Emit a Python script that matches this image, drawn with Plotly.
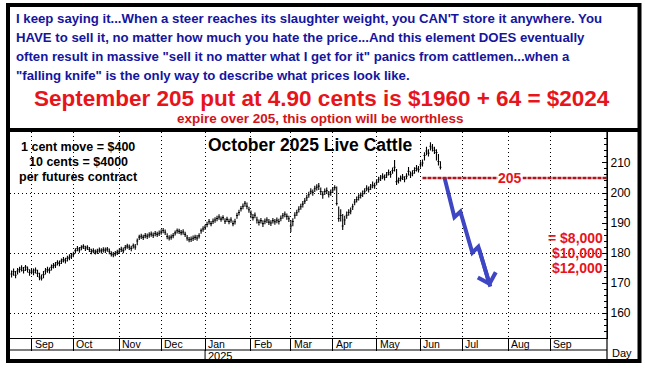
import pandas as pd
import plotly.graph_objects as go

# ---------------- data ----------------
bar_first_day = "2024-08-19"
bar_last_day = "2025-06-16"

hi_aug = [174.2,174.8,174.0,175.0,175.4,175.9,175.3,176.0,175.5,174.6]
lo_aug = [171.8,172.4,171.6,172.8,173.4,173.8,173.2,174.0,173.5,172.4]
cl_aug = [173.0,173.8,172.6,174.0,174.5,175.0,174.2,175.3,174.6,173.5]

hi_sep = [175.0,174.8,175.2,174.4,173.4,172.8,174.0,175.0,175.4,175.2,176.2,176.7,177.0,177.6,177.5,178.2,178.7,178.4,179.1,179.6,180.0]
lo_sep = [172.9,172.6,173.2,172.0,170.9,170.8,171.6,172.8,173.4,173.2,174.2,174.8,175.0,175.8,175.6,176.3,176.8,176.5,177.2,177.6,178.0]
cl_sep = [174.0,173.6,174.3,173.2,172.0,171.6,172.8,174.0,174.5,174.2,175.2,175.8,176.0,176.8,176.5,177.3,177.8,177.4,178.2,178.6,179.0]

hi_oct = [180.4,181.6,182.3,182.0,182.6,182.9,182.4,182.6,182.0,181.4,181.6,181.2,181.4,181.8,181.6,181.9,181.8,182.0,181.5,180.6,180.3,180.7,181.1]
lo_oct = [178.6,179.8,180.6,180.1,180.9,181.3,180.7,181.0,180.3,179.6,179.9,179.5,179.7,180.1,179.8,180.2,180.0,180.4,179.6,178.8,178.6,178.9,179.3]
cl_oct = [179.6,180.8,181.5,181.0,181.8,182.2,181.6,181.9,181.2,180.5,180.8,180.3,180.6,181.0,180.7,181.1,180.9,181.3,180.6,179.7,179.4,179.8,180.2]

hi_nov = [181.5,182.1,181.8,182.7,183.1,182.8,182.4,183.2,183.0,184.8,186.1,186.4,186.1,186.7,186.5,186.9,187.2,186.8,187.3,187.1,187.5]
lo_nov = [179.7,180.3,179.9,180.9,181.4,181.0,180.6,181.5,181.1,182.6,184.3,184.7,184.3,184.9,184.7,185.1,185.4,185.0,185.6,185.3,185.7]
cl_nov = [180.6,181.2,180.8,181.8,182.3,181.9,181.5,182.4,182.0,184.0,185.3,185.6,185.2,185.8,185.6,186.0,186.3,185.9,186.5,186.2,186.6]

hi_dec = [187.9,188.3,187.8,186.6,185.9,186.2,186.7,187.5,188.2,188.1,187.7,187.9,187.1,186.0,185.3,185.5,185.8,186.1,186.0,186.6,188.2,188.9]
lo_dec = [186.1,186.6,186.0,184.6,184.2,184.4,184.9,185.8,186.5,186.3,185.9,186.1,185.3,184.1,183.6,183.7,184.0,184.3,184.1,184.8,186.4,187.1]
cl_dec = [187.0,187.5,186.9,185.5,185.0,185.3,185.8,186.7,187.4,187.2,186.8,187.0,186.2,185.0,184.4,184.6,184.9,185.2,185.0,185.7,187.4,188.0]

hi_jan = [189.4,190.4,191.3,190.7,191.5,191.9,192.4,192.9,192.2,192.6,191.6,192.1,191.4,191.9,190.8,191.4,193.4,194.4,195.7,196.5,197.3,196.8,195.4]
lo_jan = [187.7,188.6,189.5,188.9,189.7,190.1,190.6,191.1,190.4,190.9,189.7,190.3,189.6,190.1,188.9,189.5,191.4,192.5,193.8,194.6,195.4,194.6,193.4]
cl_jan = [188.6,189.5,190.4,189.8,190.6,191.0,191.5,192.0,191.3,191.8,190.6,191.2,190.5,191.0,189.8,190.4,192.5,193.5,194.8,195.6,196.6,195.6,194.4]

hi_feb = [194.2,193.0,193.5,192.1,191.2,191.7,190.9,191.5,191.9,191.3,190.9,191.7,191.3,191.8,191.4,192.5,193.3,193.8,193.2,192.4]
lo_feb = [191.6,190.8,191.6,189.8,189.2,189.8,188.7,189.6,190.0,189.3,189.0,189.8,189.4,189.9,189.5,190.6,191.4,191.9,191.1,190.3]
cl_feb = [193.0,191.8,192.6,191.0,190.2,190.8,189.8,190.6,191.0,190.3,190.0,190.8,190.4,190.9,190.5,191.6,192.4,192.9,192.2,191.4]

hi_mar = [191.0,191.6,193.6,194.4,195.6,196.4,197.3,198.3,199.4,200.4,201.6,201.2,202.4,202.9,203.3,201.8,200.6,201.5,201.8,200.7,201.2]
lo_mar = [187.0,188.9,191.4,192.3,193.5,194.4,195.2,196.3,197.3,198.4,199.6,199.1,200.3,200.8,201.0,199.3,198.1,199.3,199.7,198.5,199.1]
cl_mar = [189.0,190.5,192.6,193.4,194.6,195.4,196.3,197.3,198.4,199.4,200.6,200.2,201.4,201.9,202.3,200.5,199.4,200.5,200.8,199.6,200.2]

hi_apr = [202.0,202.6,202.2,195.5,194.6,193.0,192.4,193.8,194.6,195.2,196.4,198.0,198.8,199.6,200.2,200.8,201.6,202.6,202.2,203.0,203.8,203.4]
lo_apr = [200.0,200.8,195.8,190.4,190.5,187.7,189.3,191.4,192.4,192.9,194.3,195.9,196.8,197.5,198.2,198.7,199.6,200.6,200.2,201.0,201.6,201.4]
cl_apr = [201.0,201.8,196.5,191.5,192.5,189.0,191.0,192.6,193.5,194.0,195.4,197.0,197.8,198.6,199.2,199.8,200.6,201.6,201.2,202.0,202.6,202.4]

hi_may = [204.6,205.4,206.0,206.6,206.2,207.0,207.8,207.3,208.5,211.0,208.0,205.2,205.8,206.3,205.6,206.6,208.7,207.2,207.6,208.6,209.3,209.0]
lo_may = [202.6,203.4,204.0,204.6,204.2,205.0,205.8,205.1,206.4,207.2,202.7,203.2,203.8,204.3,203.6,204.6,205.8,205.0,205.6,206.4,207.2,206.8]
cl_may = [203.6,204.4,205.0,205.6,205.2,206.0,206.8,206.2,207.5,208.6,203.8,204.2,204.8,205.3,204.6,205.6,207.2,206.0,206.6,207.5,208.2,207.8]

hi_jun = [210.6,211.2,213.6,215.4,214.6,216.9,216.3,215.4,214.6,213.0,210.6]
lo_jun = [208.4,208.8,210.8,212.6,212.2,214.2,213.8,213.0,210.8,209.2,207.8]
cl_jun = [209.4,210.0,212.5,214.0,213.3,215.6,215.0,214.2,213.5,210.5,208.6]

# projected "falling knife" path
proj_dates = ["2025-06-18", "2025-06-25", "2025-06-30", "2025-07-08", "2025-07-11", "2025-07-21"]
proj_prices = [205.2, 191.9, 193.8, 180.1, 182.1, 168.8]

strike = 205
strike_line_start = "2025-06-03"
strike_label_date = "2025-08-01"

payoff_levels = [185, 180, 175]
payoff_text = ["= $8,000", "$10,000", "$12,000"]

price_ticks = [160, 170, 180, 190, 200, 210]
month_dates = ["2024-09-02", "2024-10-01", "2024-11-01", "2024-12-02", "2025-01-01", "2025-02-03",
               "2025-03-03", "2025-04-01", "2025-05-01", "2025-06-02", "2025-07-01", "2025-08-01", "2025-09-01"]
month_labels = ["Sep", "Oct", "Nov", "Dec", "Jan", "Feb", "Mar", "Apr", "May", "Jun", "Jul", "Aug", "Sep"]
year_date = "2025-01-01"
year_label = "2025"

top_lines = [
    "I keep saying it...When a steer reaches its slaughter weight, you CAN'T store it anywhere. You",
    "HAVE to sell it, no matter how much you hate the price...And this element DOES eventually",
    "often result in massive \"sell it no matter what I get for it\" panics from cattlemen...when a",
    "\"falling knife\" is the only way to describe what prices look like.",
]
headline = "September 205 put at 4.90 cents is $1960 + 64 = $2024"
subline = "expire over 205, this option will be worthless"
chart_title = "October 2025 Live Cattle"
contract_lines = ["1 cent move = $400", "10 cents = $4000", "per futures contract"]

# ---------------- assemble ----------------
highs = hi_aug + hi_sep + hi_oct + hi_nov + hi_dec + hi_jan + hi_feb + hi_mar + hi_apr + hi_may + hi_jun
lows = lo_aug + lo_sep + lo_oct + lo_nov + lo_dec + lo_jan + lo_feb + lo_mar + lo_apr + lo_may + lo_jun
closes = cl_aug + cl_sep + cl_oct + cl_nov + cl_dec + cl_jan + cl_feb + cl_mar + cl_apr + cl_may + cl_jun
dates = pd.bdate_range(bar_first_day, bar_last_day)
assert len(dates) == len(highs) == len(lows) == len(closes)

W, H = 645, 371
L, R, T, B = 10, 607, 132, 338
x_range = ["2024-08-16 05:00", "2025-10-09 12:00"]
y_range = [151.67, 220.33]


def fx(px):
    return (px - L) / (R - L)


def fy(py):
    return (B - py) / (B - T)


FONT = "Liberation Sans, Arial, sans-serif"
BLUE_TXT = "#15159E"
RED = "#E8141C"
RED_DARK = "#B3141C"
ARROW = "#3E46C4"

fig = go.Figure()

fig.add_trace(go.Ohlc(
    x=dates, open=closes, high=highs, low=lows, close=closes,
    increasing=dict(line=dict(color="black", width=1.1)),
    decreasing=dict(line=dict(color="black", width=1.1)),
    tickwidth=0.5, hoverinfo="skip", showlegend=False,
))

fig.add_trace(go.Scatter(
    x=[strike_line_start, x_range[1]], y=[strike, strike], mode="lines",
    line=dict(color=RED_DARK, width=2.5, dash="4px,1px"), yaxis="y2",
    hoverinfo="skip", showlegend=False,
))

fig.add_trace(go.Scatter(
    x=proj_dates, y=proj_prices, mode="lines",
    line=dict(color=ARROW, width=4), hoverinfo="skip", showlegend=False,
))

ann = []
ann.append(dict(x=proj_dates[-1], y=proj_prices[-1], ax=proj_dates[-2], ay=proj_prices[-2],
                xref="x", yref="y", axref="x", ayref="y", text="", showarrow=True,
                arrowhead=4, arrowsize=0.9, arrowwidth=4, arrowcolor=ARROW, standoff=0))

ann.append(dict(x=strike_label_date, y=strike, xref="x", yref="y", text="<b>205</b>", showarrow=False,
                xanchor="center", yanchor="middle", xshift=2,
                font=dict(family=FONT, size=14, color=RED), bgcolor="white", borderpad=0))

for lvl, txt in zip(payoff_levels, payoff_text):
    ann.append(dict(x=fx(605), y=lvl, xref="paper", yref="y", text="<b>%s</b>" % txt, showarrow=False,
                    xanchor="right", yanchor="middle", font=dict(family=FONT, size=14, color=RED)))

for md, ml in zip(month_dates, month_labels):
    ann.append(dict(x=md, y=fy(344), xref="x", yref="paper", text=ml, showarrow=False,
                    xanchor="left", yanchor="middle", xshift=1,
                    font=dict(family=FONT, size=10.5, color="black")))
ann.append(dict(x=year_date, y=fy(356), xref="x", yref="paper", text=year_label, showarrow=False,
                xanchor="left", yanchor="middle", xshift=1, font=dict(family=FONT, size=11, color="black")))
ann.append(dict(x=fx(622), y=fy(353), xref="paper", yref="paper", text="Day", showarrow=False,
                xanchor="center", yanchor="middle", font=dict(family=FONT, size=11, color="black")))

for i, line in enumerate(top_lines):
    ann.append(dict(x=fx(14), y=fy(18.5 + 19 * i), xref="paper", yref="paper", text="<b>%s</b>" % line,
                    showarrow=False, xanchor="left", yanchor="middle",
                    font=dict(family=FONT, size=13.2, color=BLUE_TXT)))
ann.append(dict(x=fx(322), y=fy(98), xref="paper", yref="paper", text="<b>%s</b>" % headline,
                showarrow=False, xanchor="center", yanchor="middle",
                font=dict(family=FONT, size=22.5, color=RED)))
ann.append(dict(x=fx(320), y=fy(118.5), xref="paper", yref="paper", text="<b>%s</b>" % subline,
                showarrow=False, xanchor="center", yanchor="middle",
                font=dict(family=FONT, size=13.5, color="#D2141A")))

ann.append(dict(x=fx(310), y=fy(145), xref="paper", yref="paper", text="<b>%s</b>" % chart_title,
                showarrow=False, xanchor="center", yanchor="middle",
                font=dict(family=FONT, size=17.5, color="black")))
for i, line in enumerate(contract_lines):
    ann.append(dict(x=fx(78), y=fy(147 + 15 * i), xref="paper", yref="paper", text="<b>%s</b>" % line,
                    showarrow=False, xanchor="center", yanchor="middle",
                    font=dict(family=FONT, size=12.5, color="black")))

shapes = [
    dict(type="rect", xref="paper", yref="paper", x0=fx(8), x1=fx(639.5), y0=fy(361), y1=fy(5),
         line=dict(color="black", width=4), layer="above"),
    dict(type="line", xref="paper", yref="paper", x0=fx(8), x1=fx(639.5), y0=fy(130), y1=fy(130),
         line=dict(color="black", width=4), layer="above"),
    dict(type="line", xref="paper", yref="paper", x0=fx(607), x1=fx(607), y0=fy(132), y1=fy(361),
         line=dict(color="black", width=1.2), layer="above"),
    dict(type="line", xref="paper", yref="paper", x0=fx(10), x1=fx(607), y0=fy(350), y1=fy(350),
         line=dict(color="black", width=1.2), layer="above"),
    dict(type="line", xref="x", yref="paper", x0=year_date, x1=year_date, y0=fy(350), y1=fy(361),
         line=dict(color="black", width=1), layer="above"),
]

grid_dash = "1px,3px"
fig.update_layout(
    width=W, height=H,
    margin=dict(l=L, r=W - R, t=T, b=H - B, pad=0),
    paper_bgcolor="white", plot_bgcolor="white",
    showlegend=False,
    annotations=ann,
    shapes=shapes,
    xaxis=dict(
        type="date", range=x_range, rangeslider=dict(visible=False),
        rangebreaks=[dict(bounds=["sat", "mon"])],
        tickmode="array", tickvals=month_dates, showticklabels=False,
        ticks="outside", ticklen=12, tickcolor="black", tickwidth=1,
        showline=True, linecolor="black", linewidth=1.2,
        showgrid=True, gridcolor="black", gridwidth=1, griddash=grid_dash,
        zeroline=False, fixedrange=True,
    ),
    yaxis=dict(
        side="right", range=y_range, tickmode="array", tickvals=price_ticks,
        ticks="inside", ticklen=5, tickcolor="black",
        minor=dict(dtick=2, tick0=0, ticks="inside", ticklen=2.5, tickcolor="black", showgrid=False),
        showline=True, linecolor="black", linewidth=1.2,
        showgrid=False, zeroline=False,
        tickfont=dict(family=FONT, size=12, color="black"),
    ),
    yaxis2=dict(
        overlaying="y", side="left", range=y_range, tick0=0, dtick=20,
        showticklabels=False, ticks="", showline=False, zeroline=False,
        showgrid=True, gridcolor="black", gridwidth=1, griddash=grid_dash,
    ),
)

fig.write_html("out.html", config={"displayModeBar": False},
               post_script="document.body.style.margin='0';document.body.style.overflow='hidden';")
